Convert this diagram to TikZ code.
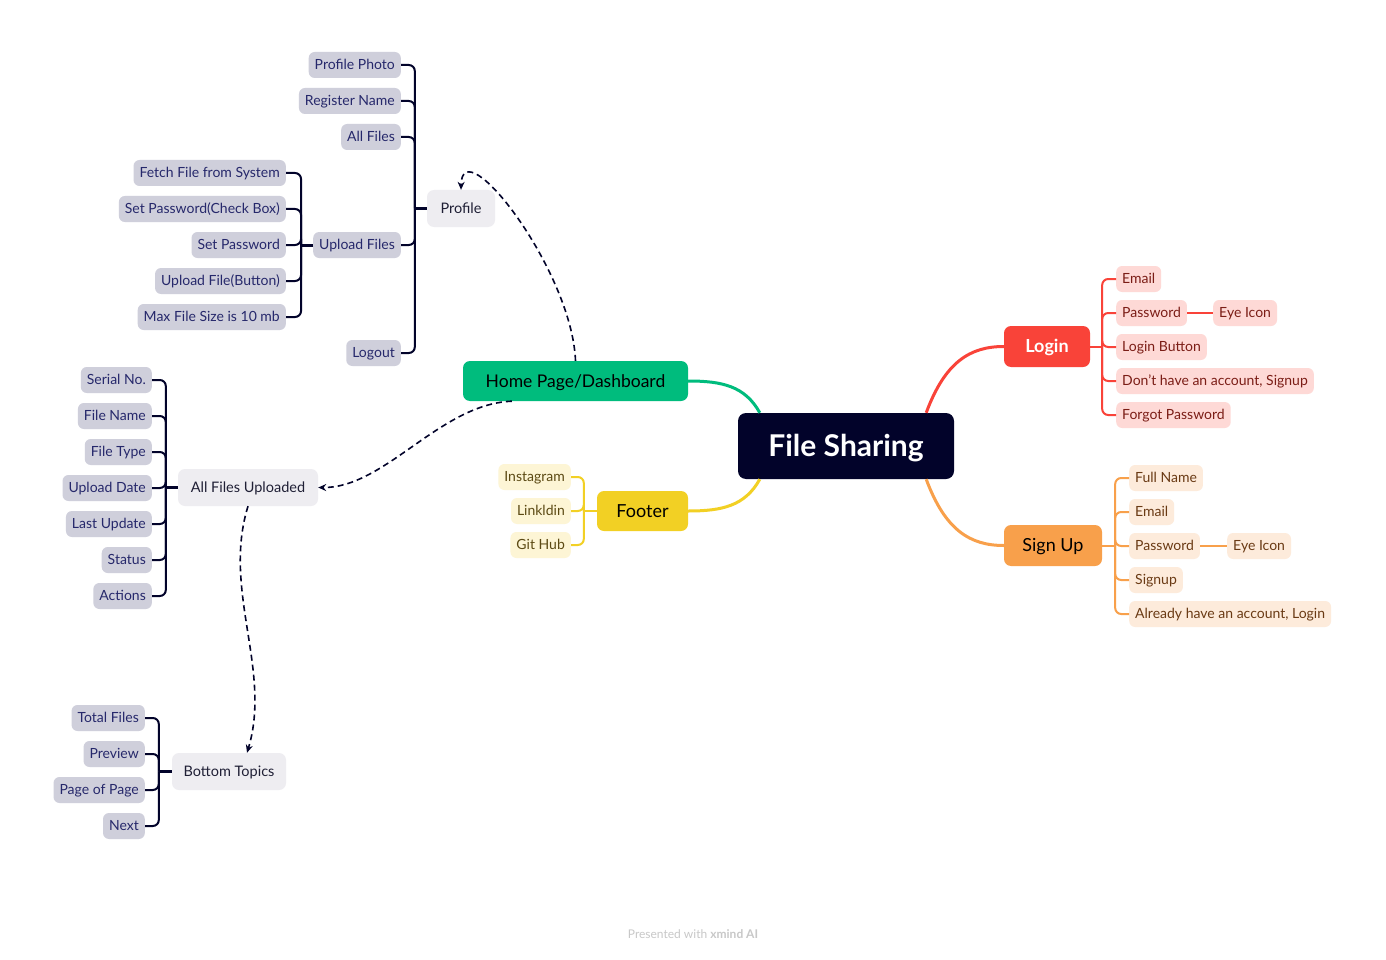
\documentclass[tikz,border=0pt]{standalone}
\usepackage{fontspec}
\setmainfont{Lato}
\usetikzlibrary{calc,arrows.meta}
\definecolor{navy}{HTML}{02032A}
\definecolor{cgray}{HTML}{CFCFDB}
\definecolor{ctext}{HTML}{26286B}
\definecolor{lgray}{HTML}{EEEDF1}
\definecolor{ltext}{HTML}{1F1F35}
\definecolor{cgreen}{HTML}{00BC7D}
\definecolor{cyellow}{HTML}{F2D024}
\definecolor{lyellow}{HTML}{FDF5D5}
\definecolor{tyellow}{HTML}{5C4A14}
\definecolor{cred}{HTML}{F94339}
\definecolor{lred}{HTML}{FED9D6}
\definecolor{tred}{HTML}{7B1D16}
\definecolor{corange}{HTML}{F8A04B}
\definecolor{lorange}{HTML}{FDEBDB}
\definecolor{torange}{HTML}{6A3A14}
\definecolor{wm}{HTML}{C8C8C8}
\tikzset{
  leaf/.style={rounded corners=6pt, font=\fontsize{14}{16}\selectfont, inner xsep=6pt, inner ysep=0pt, text height=11.5pt, text depth=2pt, minimum height=26pt},
  gleaf/.style={leaf, fill=cgray, text=ctext, anchor=east},
  yleaf/.style={leaf, fill=lyellow, text=tyellow, anchor=east},
  rleaf/.style={leaf, fill=lred, text=tred, anchor=west},
  oleaf/.style={leaf, fill=lorange, text=torange, anchor=west},
  sub/.style={rounded corners=7pt, fill=lgray, text=ltext, font=\fontsize{14.5}{17}\selectfont, text height=12pt, text depth=2pt, inner ysep=0pt, minimum height=37pt, inner xsep=0pt},
  main/.style={rounded corners=7pt, minimum height=40pt, inner xsep=0pt, inner ysep=0pt, text height=15pt, text depth=2.5pt, font=\fontsize{18}{20}\selectfont},
  brk/.style={line width=2pt, rounded corners=6pt},
  stub/.style={line width=3pt},
  branch/.style={line width=3pt},
  dashlink/.style={navy, line width=1.6pt, dash pattern=on 6pt off 4pt, -{Stealth[length=8pt,width=7pt]}},
}
\begin{document}
\begin{tikzpicture}[x=1pt,y=-1pt]
\useasboundingbox[fill=white] (0,0) rectangle (1386,960);

% central
\node[rounded corners=8pt, fill=navy, text=white, minimum width=216pt, minimum height=66pt, inner ysep=0pt, text height=24pt, text depth=3pt, font=\bfseries\fontsize{30}{32}\selectfont] (fs) at (846,446) {File Sharing};

% main branches
\node[main, fill=cgreen, text=black, minimum width=225pt, font=\fontsize{17.5}{20}\selectfont] (hp) at (575.5,381) {Home Page/Dashboard};
\node[main, fill=cyellow, text=black, minimum width=91pt] (ft) at (642.5,511) {Footer};
\node[main, fill=cred, text=white, minimum width=86pt, minimum height=41pt, font=\bfseries\fontsize{18}{20}\selectfont] (lg) at (1047,346.5) {Login};
\node[main, fill=corange, text=black, minimum width=98pt, minimum height=41pt] (su) at (1053,545.5) {Sign Up};

% sub topics
\node[sub, minimum width=68pt] (pr) at (461,208.5) {Profile};
\node[sub, minimum width=140pt] (afu) at (248,487.5) {All Files Uploaded};
\node[sub, minimum width=114pt] (bt) at (229,771.5) {Bottom Topics};

% profile children
\node[gleaf] (pp) at (401,65) {Profile Photo};
\node[gleaf] (rn) at (401,101) {Register Name};
\node[gleaf] (af) at (401,137) {All Files};
\node[gleaf] (uf) at (401,245) {Upload Files};
\node[gleaf] (lo) at (401,353) {Logout};

% upload children
\node[gleaf] (ff) at (286,173) {Fetch File from System};
\node[gleaf] (sc) at (286,209) {Set Password(Check Box)};
\node[gleaf] (sp) at (286,245) {Set Password};
\node[gleaf] (ub) at (286,281) {Upload File(Button)};
\node[gleaf] (mx) at (286,317) {Max File Size is 10 mb};

% all files uploaded children
\node[gleaf] (sn) at (152,380) {Serial No.};
\node[gleaf] (fn) at (152,416) {File Name};
\node[gleaf] (ftp) at (152,452) {File Type};
\node[gleaf] (ud) at (152,488) {Upload Date};
\node[gleaf] (lu) at (152,524) {Last Update};
\node[gleaf] (st) at (152,560) {Status};
\node[gleaf] (ac) at (152,596) {Actions};

% bottom topics children
\node[gleaf] (tf) at (145,718) {Total Files};
\node[gleaf] (pv) at (145,754) {Preview};
\node[gleaf] (pg) at (145,790) {Page of Page};
\node[gleaf] (nx) at (145,826) {Next};

% footer children
\node[yleaf] (ig) at (571,477) {Instagram};
\node[yleaf] (li) at (571,511) {Linkldin};
\node[yleaf] (gh) at (571,545) {Git Hub};

% login children
\node[rleaf] (le) at (1116,279) {Email};
\node[rleaf] (lp) at (1116,313) {Password};
\node[rleaf] (lei) at (1213,313) {Eye Icon};
\node[rleaf] (lb) at (1116,347) {Login Button};
\node[rleaf] (ld) at (1116,381) {Don't have an account, Signup};
\node[rleaf] (lf) at (1116,415) {Forgot Password};

% sign up children
\node[oleaf] (sfn) at (1129,478) {Full Name};
\node[oleaf] (se) at (1129,512) {Email};
\node[oleaf] (sp2) at (1129,546) {Password};
\node[oleaf] (sei) at (1227,546) {Eye Icon};
\node[oleaf] (ss) at (1129,580) {Signup};
\node[oleaf] (sa) at (1129,614) {Already have an account, Login};

% main curves
\coordinate (fsnw) at ($(fs.north west)+(22,0)$);
\coordinate (fssw) at ($(fs.south west)+(22,0)$);
\coordinate (fsne) at ($(fs.north east)+(-28,0)$);
\coordinate (fsse) at ($(fs.south east)+(-28,0)$);
\draw[branch, cgreen] (fsnw) .. controls (745,386) and (722,381) .. (hp.east);
\draw[branch, cyellow] (fssw) .. controls (745,506) and (722,511) .. (ft.east);
\draw[branch, cred] (fsne) .. controls (945,362) and (970,346.5) .. (lg.west);
\draw[branch, corange] (fsse) .. controls (945,530) and (970,545.5) .. (su.west);

% brackets - profile
\coordinate (jpr) at ($(pr.west)+(-12,0)$);
\draw[stub, navy] (pr.west) -- (jpr);
\foreach \c in {pp,rn,af,uf,lo} \draw[brk, navy] (jpr) |- (\c.east);
% upload
\coordinate (juf) at ($(uf.west)+(-12,0)$);
\draw[stub, navy] (uf.west) -- (juf);
\foreach \c in {ff,sc,sp,ub,mx} \draw[brk, navy] (juf) |- (\c.east);
% all files uploaded
\coordinate (jafu) at ($(afu.west)+(-12,0)$);
\draw[stub, navy] (afu.west) -- (jafu);
\foreach \c in {sn,fn,ftp,ud,lu,st,ac} \draw[brk, navy] (jafu) |- (\c.east);
% bottom topics
\coordinate (jbt) at ($(bt.west)+(-13,0)$);
\draw[stub, navy] (bt.west) -- (jbt);
\foreach \c in {tf,pv,pg,nx} \draw[brk, navy] (jbt) |- (\c.east);
% footer
\coordinate (jft) at ($(ft.west)+(-13,0)$);
\draw[line width=2pt, cyellow] (ft.west) -- (jft);
\foreach \c in {ig,li,gh} \draw[brk, cyellow] (jft) |- (\c.east);
% login
\coordinate (jlg) at ($(lg.east)+(12,0)$);
\draw[line width=2pt, cred] (lg.east) -- (jlg);
\foreach \c in {le,lp,lb,ld,lf} \draw[brk, cred] (jlg) |- (\c.west);
\draw[line width=2pt, cred] (lp.east) -- (lei.west);
% sign up
\coordinate (jsu) at ($(su.east)+(13,0)$);
\draw[line width=2pt, corange] (su.east) -- (jsu);
\foreach \c in {sfn,se,sp2,ss,sa} \draw[brk, corange] (jsu) |- (\c.west);
\draw[line width=2pt, corange] (sp2.east) -- (sei.west);

% dashed links
\draw[dashlink] (hp.north) .. controls (572,270) and (462,128) .. (pr.north);
\coordinate (hpsw) at ($(hp.south west)+(49,0)$);
\draw[dashlink] (hpsw) .. controls (440,404) and (385,488) .. (afu.east);
\coordinate (btn) at ($(bt.north)+(18,0)$);
\draw[dashlink] (afu.south) .. controls (222,590) and (272,670) .. (btn);

% watermark
\node[text=wm, font=\fontsize{12}{14}\selectfont] (wmk) at (693,934) {Presented with \textbf{xmind AI}};
\end{tikzpicture}
\end{document}
